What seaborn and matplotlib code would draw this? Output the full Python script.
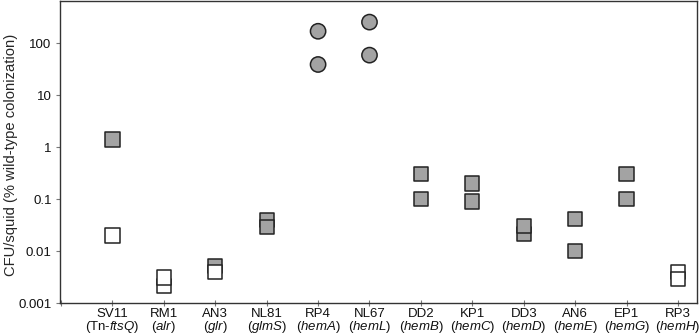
import pandas as pd
import seaborn as sns
import matplotlib.pyplot as plt

# strains and the gene each one carries
strains = ["SV11", "RM1", "AN3", "NL81", "RP4", "NL67",
           "DD2", "KP1", "DD3", "AN6", "EP1", "RP3"]
genes = ["Tn-ftsQ", "alr", "glr", "glmS", "hemA", "hemL",
         "hemB", "hemC", "hemD", "hemE", "hemG", "hemH"]

# two measurements per strain (CFU/squid, % wild-type)
values = [[1.4, 0.02], [0.0021, 0.0031], [0.0052, 0.004], [0.04, 0.029],
          [170, 39], [255, 59], [0.3, 0.1], [0.2, 0.09],
          [0.021, 0.03], [0.041, 0.01], [0.3, 0.1], [0.004, 0.0029]]
# filled (grey) or open (white) symbol
filled = [[True, False], [False, False], [True, False], [True, True],
          [True, True], [True, True], [True, True], [True, True],
          [True, True], [True, True], [True, True], [False, False]]
# circle symbols for these strains, squares for the rest
circle_strains = ["RP4", "NL67"]

rows = []
for s, vals, fl in zip(strains, values, filled):
    for v, f in zip(vals, fl):
        rows.append({"strain": s, "cfu": v, "fill": "grey" if f else "open",
                     "shape": "o" if s in circle_strains else "s"})
df = pd.DataFrame(rows)

sns.set_style("ticks")
plt.rcParams["font.family"] = ["Liberation Sans", "DejaVu Sans"]
plt.rcParams["mathtext.fontset"] = "custom"
plt.rcParams["mathtext.rm"] = "Liberation Sans"
plt.rcParams["mathtext.it"] = "Liberation Sans:italic"

fig = plt.figure(figsize=(7, 3.35), dpi=100)
ax = fig.add_axes([0.0857, 0.0955, 0.91, 0.9015])

palette = {"grey": "#a3a3a3", "open": "white"}
for shape, size in [("s", 10.3), ("o", 11)]:
    sub = df[df["shape"] == shape]
    sns.stripplot(data=sub, x="strain", y="cfu", hue="fill", order=strains,
                  palette=palette, jitter=False, marker=shape, size=size,
                  linewidth=1.1, edgecolor="#222222", legend=False, ax=ax)

ax.set_yscale("log")
ax.set_ylim(0.001, 650)
ax.set_xlim(-1.02, 11.37)
ax.set_yticks([0.001, 0.01, 0.1, 1, 10, 100])
ax.set_yticklabels(["0.001", "0.01", "0.1", "1", "10", "100"])
ax.minorticks_off()

ticklabels = [f"{s}\n(Tn-$\\mathit{{ftsQ}}$)" if g == "Tn-ftsQ"
              else f"{s}\n($\\mathit{{{g}}}$)" for s, g in zip(strains, genes)]
ax.set_xticks([-1] + list(range(len(strains))))
ax.set_xticklabels([""] + ticklabels, linespacing=0.95)

ax.set_xlabel("")
ax.set_ylabel("CFU/squid (% wild-type colonization)", fontsize=10.6)
ax.yaxis.set_label_coords(-0.066, 0.49)
ax.tick_params(axis="both", labelsize=9.5, colors="#111111", length=3,
               width=0.8, pad=3)
ax.tick_params(axis="x", direction="inout", length=5, pad=1, color="#777777")
ax.tick_params(axis="y", color="#777777")
for sp in ax.spines.values():
    sp.set_color("#333333")
    sp.set_linewidth(1.0)

fig.savefig("out.png", dpi=100)
